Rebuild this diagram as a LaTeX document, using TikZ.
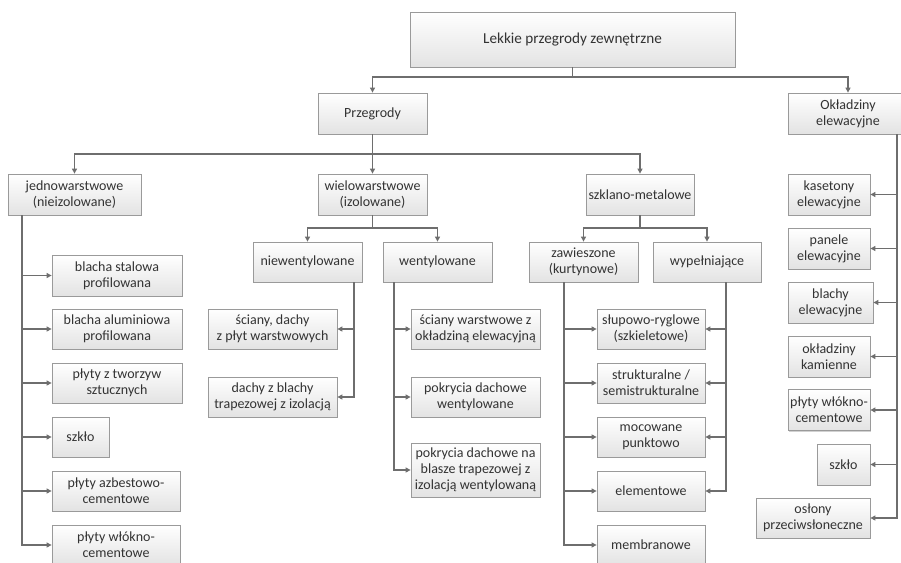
\documentclass[tikz,border=0pt]{standalone}
\usepackage{fontspec}
\setmainfont{Carlito}
\usetikzlibrary{arrows.meta,shadows}
\definecolor{linec}{HTML}{6E6E6E}
\definecolor{boxd}{HTML}{9A9A9A}
\definecolor{txt}{HTML}{333333}
\tikzset{
  box/.style={draw=boxd, line width=0.8pt, top color=white, bottom color=black!11,
    text=txt, align=center, inner sep=1pt,
    font=\fontsize{14}{16}\selectfont,
    drop shadow={shadow xshift=1.2pt, shadow yshift=-1.2pt, opacity=0.18, fill=black}},
  line/.style={draw=linec, line width=1.1pt},
  arr/.style={line, -{Triangle[length=5pt,width=5pt]}},
}
\newcommand{\bx}[7]{\node[box, minimum width=#4, minimum height=#5] (#1) at (#2,#3) {#6};}
\begin{document}
\begin{tikzpicture}[x=1pt,y=-1pt]
\useasboundingbox (0,0) rectangle (901,562);
\fill[white] (0,0) rectangle (901,562);
\clip (0,0) rectangle (901,562);

% level 0/1
\node[box, minimum width=325, minimum height=55, font=\fontsize{15.2}{18}\selectfont] (top) at (572.5,39.5) {Lekkie przegrody zewnętrzne};
\bx{przeg}{372.5}{113.5}{109}{41}{Przegrody}{}
\bx{okl}{848}{113.5}{120}{41}{Okładziny\\elewacyjne}{}

% level 2
\bx{jedno}{74.5}{194.5}{133}{41}{jednowarstwowe\\(nieizolowane)}{}
\bx{wielo}{372.5}{194.5}{109}{41}{wielowarstwowe\\(izolowane)}{}
\bx{szkl}{640}{194.5}{108}{41}{szklano-metalowe}{}

% right column
\bx{kaset}{829}{194.5}{82}{41}{kasetony\\elewacyjne}{}
\bx{panele}{829}{248.5}{82}{41}{panele\\elewacyjne}{}
\bx{blachy}{830.5}{302.5}{85}{41}{blachy\\elewacyjne}{}
\bx{kamien}{829}{356.5}{82}{41}{okładziny\\kamienne}{}
\bx{wloknoR}{829}{410}{82}{41}{płyty włókno-\\cementowe}{}
\bx{szkloR}{843.5}{464.5}{53}{41}{szkło}{}
\bx{oslony}{813}{518}{114}{40}{osłony\\przeciwsłoneczne}{}

% wielowarstwowe subtree
\bx{niew}{307.5}{262}{109}{40}{niewentylowane}{}
\bx{went}{437.5}{262}{109}{40}{wentylowane}{}
\bx{scianyD}{272.5}{329}{129}{40}{ściany, dachy\\z płyt warstwowych}{}
\bx{dachyZ}{272.5}{397}{129}{40}{dachy z blachy\\trapezowej z izolacją}{}
\bx{scianyW}{475.5}{329}{129}{40}{ściany warstwowe z\\okładziną elewacyjną}{}
\bx{pokrW}{475.5}{397}{129}{40}{pokrycia dachowe\\wentylowane}{}
\bx{pokrB}{475.5}{470}{129}{54}{pokrycia dachowe na\\blasze trapezowej z\\izolacją wentylowaną}{}

% szklano-metalowe subtree
\bx{zaw}{583.5}{262}{109}{40}{zawieszone\\(kurtynowe)}{}
\bx{wyp}{707}{262}{108}{40}{wypełniające}{}
\bx{slup}{651}{329}{108}{40}{słupowo-ryglowe\\(szkieletowe)}{}
\bx{strukt}{651}{383}{108}{40}{strukturalne /\\semistrukturalne}{}
\bx{mocow}{651}{437}{108}{40}{mocowane\\punktowo}{}
\bx{elem}{651}{491}{108}{40}{elementowe}{}
\bx{membr}{651}{545}{108}{40}{membranowe}{}

% jednowarstwowe subtree
\bx{stal}{117}{275.5}{130}{41}{blacha stalowa\\profilowana}{}
\bx{alum}{117}{329}{130}{40}{blacha aluminiowa\\profilowana}{}
\bx{tworz}{117}{383}{130}{40}{płyty z tworzyw\\sztucznych}{}
\bx{szkloL}{80.5}{437}{57}{40}{szkło}{}
\bx{azb}{116}{491}{128}{40}{płyty azbestowo-\\cementowe}{}
\bx{wloknoL}{116}{545}{128}{40}{płyty włókno-\\cementowe}{}

% junction / stem coordinates
\coordinate (t1) at (572.5,77);
\coordinate (p1) at (372.5,154);
\coordinate (w1) at (372.5,228);
\coordinate (s1) at (640,228);
\coordinate (okx) at (897,0);
\coordinate (nx) at (354,0);
\coordinate (wx) at (394,0);
\coordinate (zx) at (564,0);
\coordinate (yx) at (726,0);
\coordinate (jx) at (22,0);

% connectors
\draw[arr] (top.south) -- (t1) -| (przeg.north);
\draw[arr] (t1) -| (okl.north);

\draw[arr] (przeg.south) -- (wielo.north);
\draw[arr] (p1) -| (jedno.north);
\draw[arr] (p1) -| (szkl.north);

\draw[arr] (okl.south -| okx) |- (oslony.east);
\foreach \n in {kaset,panele,blachy,kamien,wloknoR,szkloR}
  \draw[arr] (okx |- \n.east) -- (\n.east);

\draw[line] (wielo.south) -- (w1);
\draw[arr] (w1) -| (niew.north);
\draw[arr] (w1) -| (went.north);
\draw[arr] (niew.south -| nx) |- (dachyZ.east);
\draw[arr] (nx |- scianyD.east) -- (scianyD.east);
\draw[arr] (went.south -| wx) |- (pokrB.west);
\foreach \n in {scianyW,pokrW}
  \draw[arr] (wx |- \n.west) -- (\n.west);

\draw[line] (szkl.south) -- (s1);
\draw[arr] (s1) -| (zaw.north);
\draw[arr] (s1) -| (wyp.north);
\draw[arr] (zaw.south -| zx) |- (membr.west);
\foreach \n in {slup,strukt,mocow,elem}
  \draw[arr] (zx |- \n.west) -- (\n.west);
\draw[arr] (wyp.south -| yx) |- (elem.east);
\foreach \n in {slup,strukt,mocow}
  \draw[arr] (yx |- \n.east) -- (\n.east);

\draw[arr] (jedno.south -| jx) |- (wloknoL.west);
\foreach \n in {stal,alum,tworz,szkloL,azb}
  \draw[arr] (jx |- \n.west) -- (\n.west);
\end{tikzpicture}
\end{document}
